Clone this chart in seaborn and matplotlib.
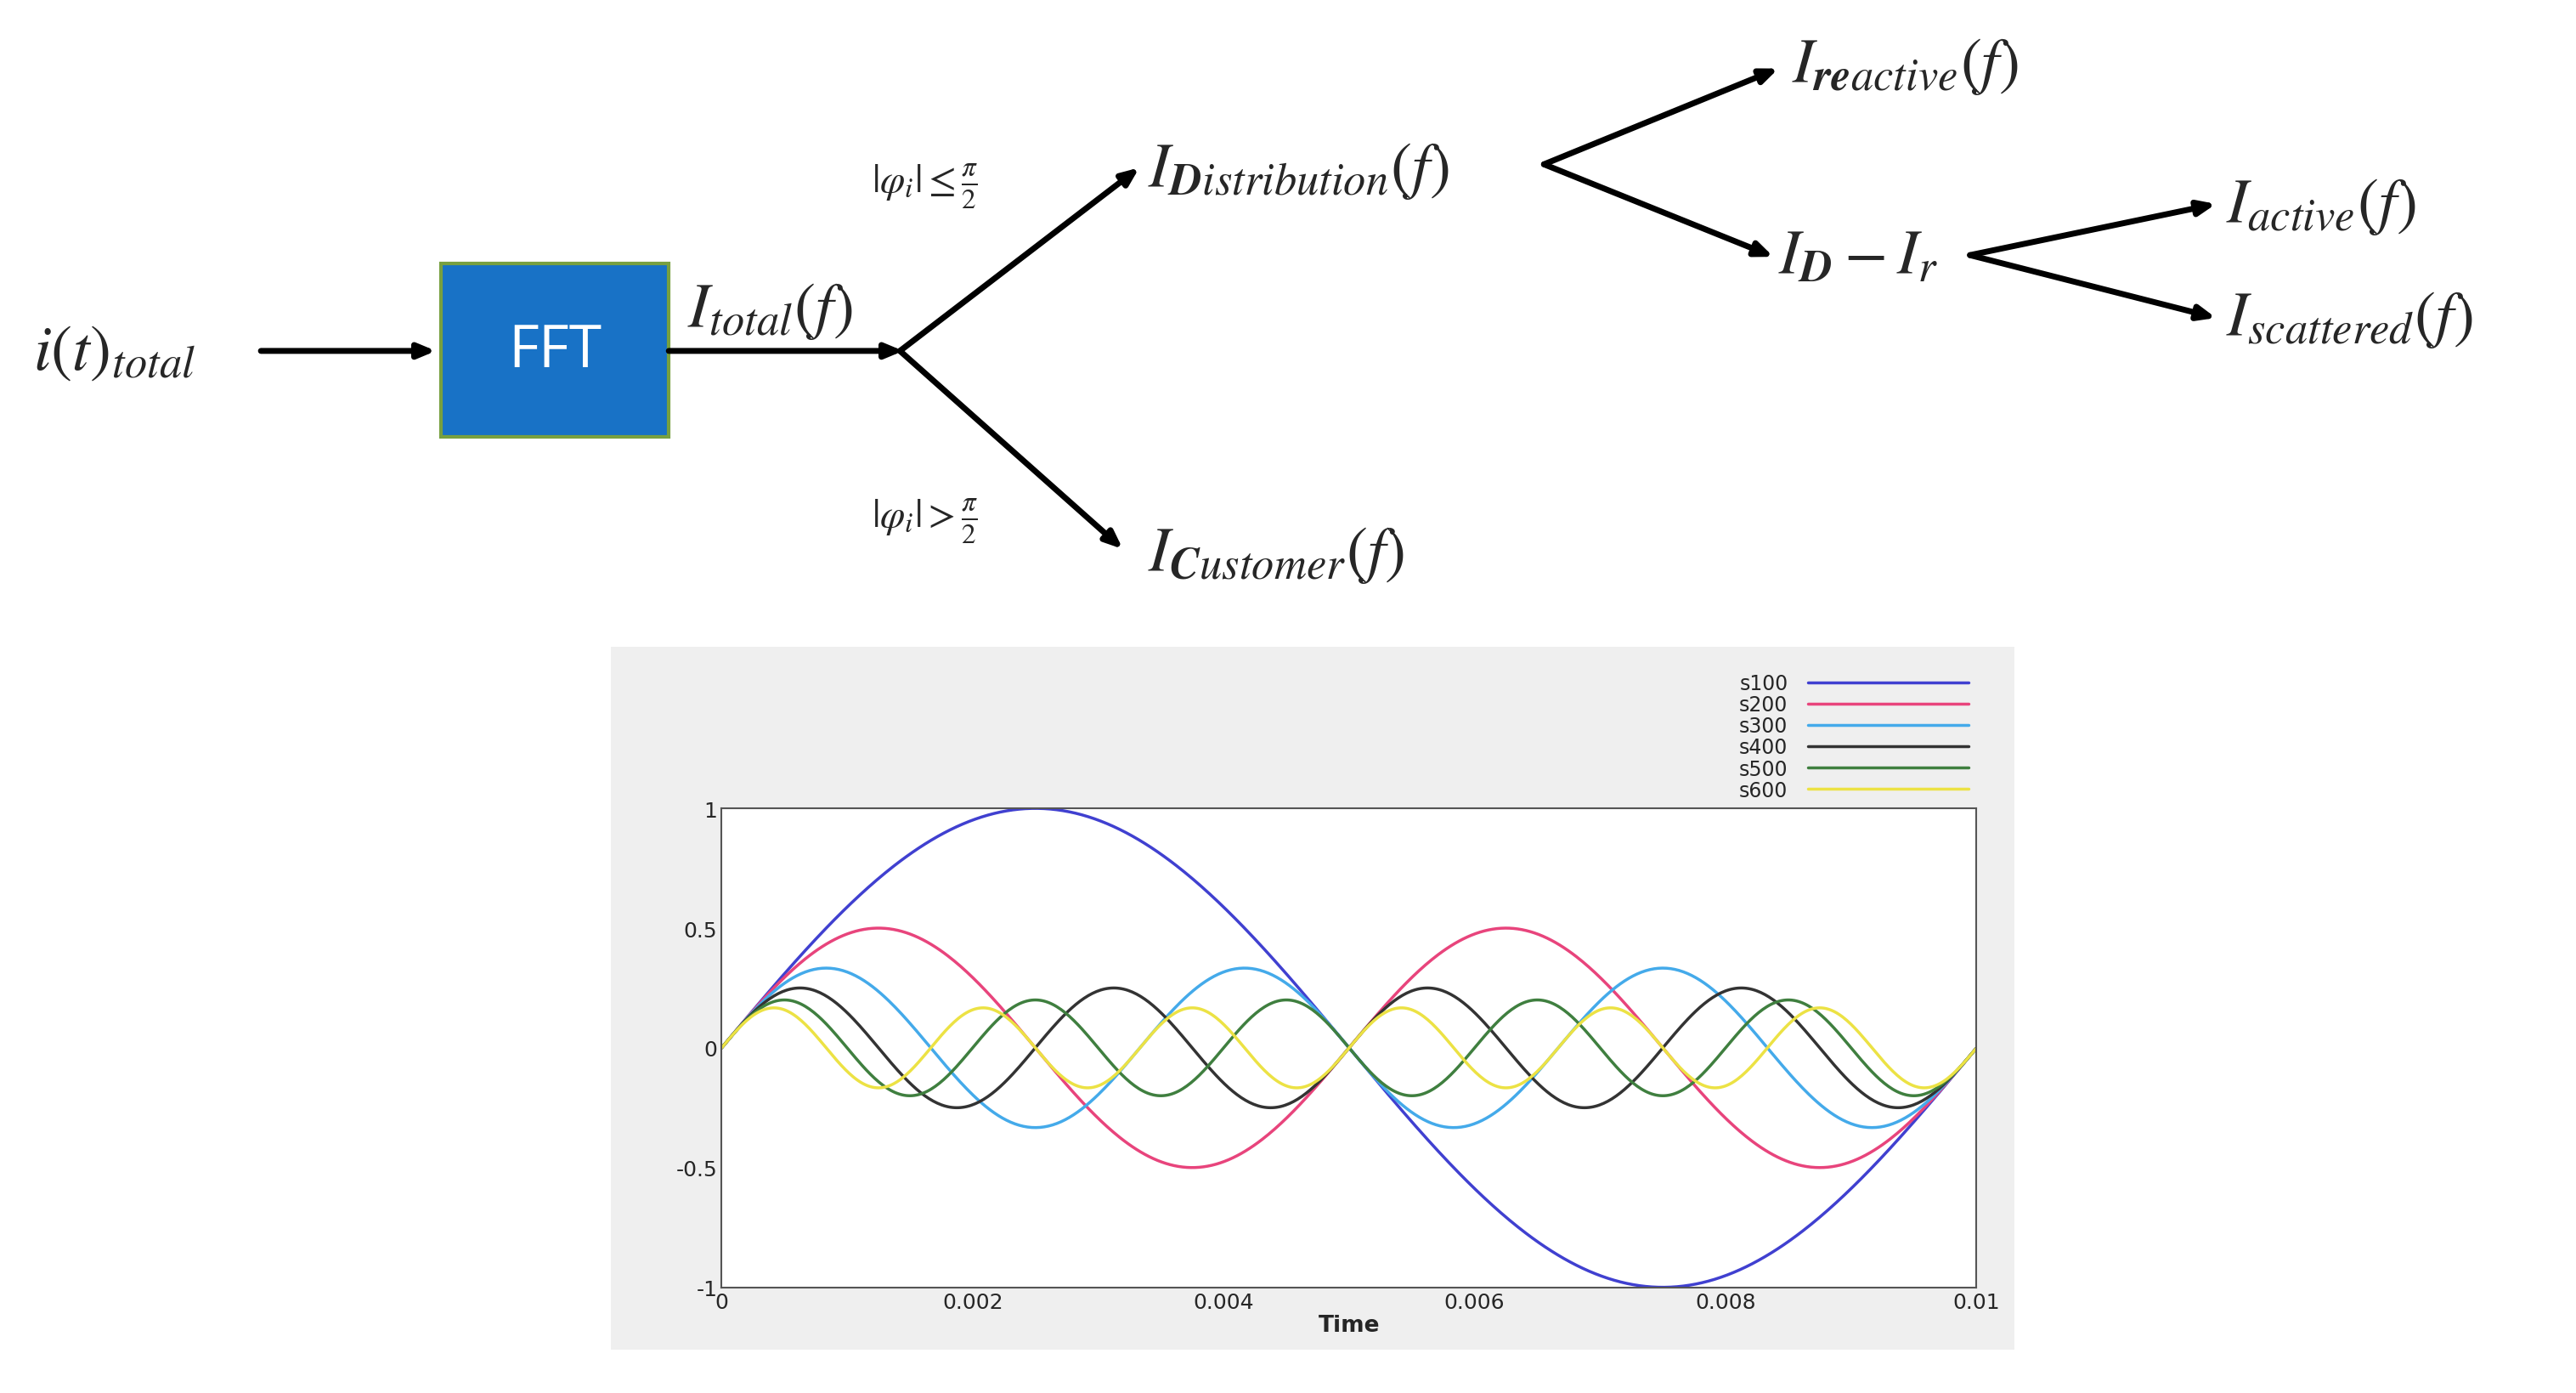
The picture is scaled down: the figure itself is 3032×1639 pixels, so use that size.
import numpy as np
import pandas as pd
import seaborn as sns
import matplotlib.pyplot as plt
from matplotlib.patches import Rectangle

# harmonic series: name, frequency (Hz), peak amplitude
series_names = ["s100", "s200", "s300", "s400", "s500", "s600"]
series_freq = [100, 200, 300, 400, 500, 600]
series_amp = [1.0, 0.5, 0.333, 0.25, 0.2, 0.167]
series_colors = ["#4040d0", "#e8447c", "#44aaea", "#333333", "#3f7f3f", "#ece244"]
x_ticks = [0, 0.002, 0.004, 0.006, 0.008, 0.01]
x_ticklabels = ["0", "0.002", "0.004", "0.006", "0.008", "0.01"]
y_ticks = [-1, -0.5, 0, 0.5, 1]
y_ticklabels = ["-1", "-0.5", "0", "0.5", "1"]

t = np.linspace(0, 0.01, 600)
rows = []
for name, f, a in zip(series_names, series_freq, series_amp):
    rows.append(pd.DataFrame({"Time": t, "value": a * np.sin(2 * np.pi * f * t), "series": name}))
df = pd.concat(rows)

sns.set_style("white")
plt.rcParams["mathtext.fontset"] = "stix"

W, H = 1560, 844
fig = plt.figure(figsize=(30.32, 16.4), dpi=100)
dia = fig.add_axes([0, 0, 1, 1])
dia.set_xlim(0, W)
dia.set_ylim(H, 0)
dia.axis("off")

def arrow(x0, y0, x1, y1):
    dia.annotate("", xy=(x1, y1), xytext=(x0, y0),
                 arrowprops=dict(arrowstyle="-|>,head_length=1.2,head_width=0.5", lw=5, color="black",
                                 shrinkA=0, shrinkB=0))

arrow(158, 213, 264, 213)
arrow(405, 213, 547, 213)
arrow(545, 213, 690, 102)
arrow(545, 213, 680, 333)
arrow(935, 100, 1077, 42)
arrow(935, 100, 1074, 156)
arrow(1193, 155, 1342, 124)
arrow(1193, 155, 1342, 193)

dia.add_patch(Rectangle((267, 160), 138, 105, facecolor="#1872c6", edgecolor="#78a040", lw=3))
dia.text(336, 213, "FFT", color="white", fontsize=50, ha="center", va="center", family="Open Sans")

fs = 54
dia.text(20, 213, r"$i(t)_{total}$", fontsize=fs, va="center")
dia.text(416, 188, r"$I_{total}(f)$", fontsize=fs, va="center")
dia.text(528, 113, r"$|\varphi_i| \leq \frac{\pi}{2}$", fontsize=34, va="center")
dia.text(528, 316, r"$|\varphi_i| > \frac{\pi}{2}$", fontsize=34, va="center")
dia.text(695, 103, r"$I_{\boldsymbol{D}istribution}(f)$", fontsize=fs, va="center")
dia.text(695, 336, r"$I_{\boldsymbol{C}ustomer}(f)$", fontsize=fs, va="center")
dia.text(1085, 40, r"$I_{\boldsymbol{re}active}(f)$", fontsize=fs, va="center")
dia.text(1077, 155, r"$I_{\boldsymbol{D}} - I_r$", fontsize=fs, va="center")
dia.text(1348, 125, r"$I_{active}(f)$", fontsize=fs, va="center")
dia.text(1348, 193, r"$I_{scattered}(f)$", fontsize=fs, va="center")

# gray panel behind the plot
dia.add_patch(Rectangle((370, 392), 850, 426, facecolor="#efefef", edgecolor="none"))

ax = fig.add_axes([437 / W, 1 - 780 / H, 760 / W, 290 / H])
sns.lineplot(data=df, x="Time", y="value", hue="series", palette=series_colors, lw=2.5, ax=ax)
ax.set_xlim(0, 0.01)
ax.set_ylim(-1, 1)
ax.set_xticks(x_ticks, x_ticklabels)
ax.set_yticks(y_ticks, y_ticklabels)
ax.tick_params(labelsize=18, direction="in", length=7)
ax.minorticks_on()
ax.tick_params(which="minor", direction="in", length=4)
ax.set_ylabel("")
ax.set_xlabel("Time", fontsize=19, fontweight="bold", labelpad=2)
for s in ax.spines.values():
    s.set_color("#555555")
    s.set_linewidth(1.5)
ax.legend(loc="lower right", bbox_to_anchor=(1.0, 1.0), markerfirst=False, frameon=False,
          fontsize=17, handlelength=8, labelspacing=0.05, borderaxespad=0, handletextpad=1)

fig.savefig("out.png", dpi=100)
